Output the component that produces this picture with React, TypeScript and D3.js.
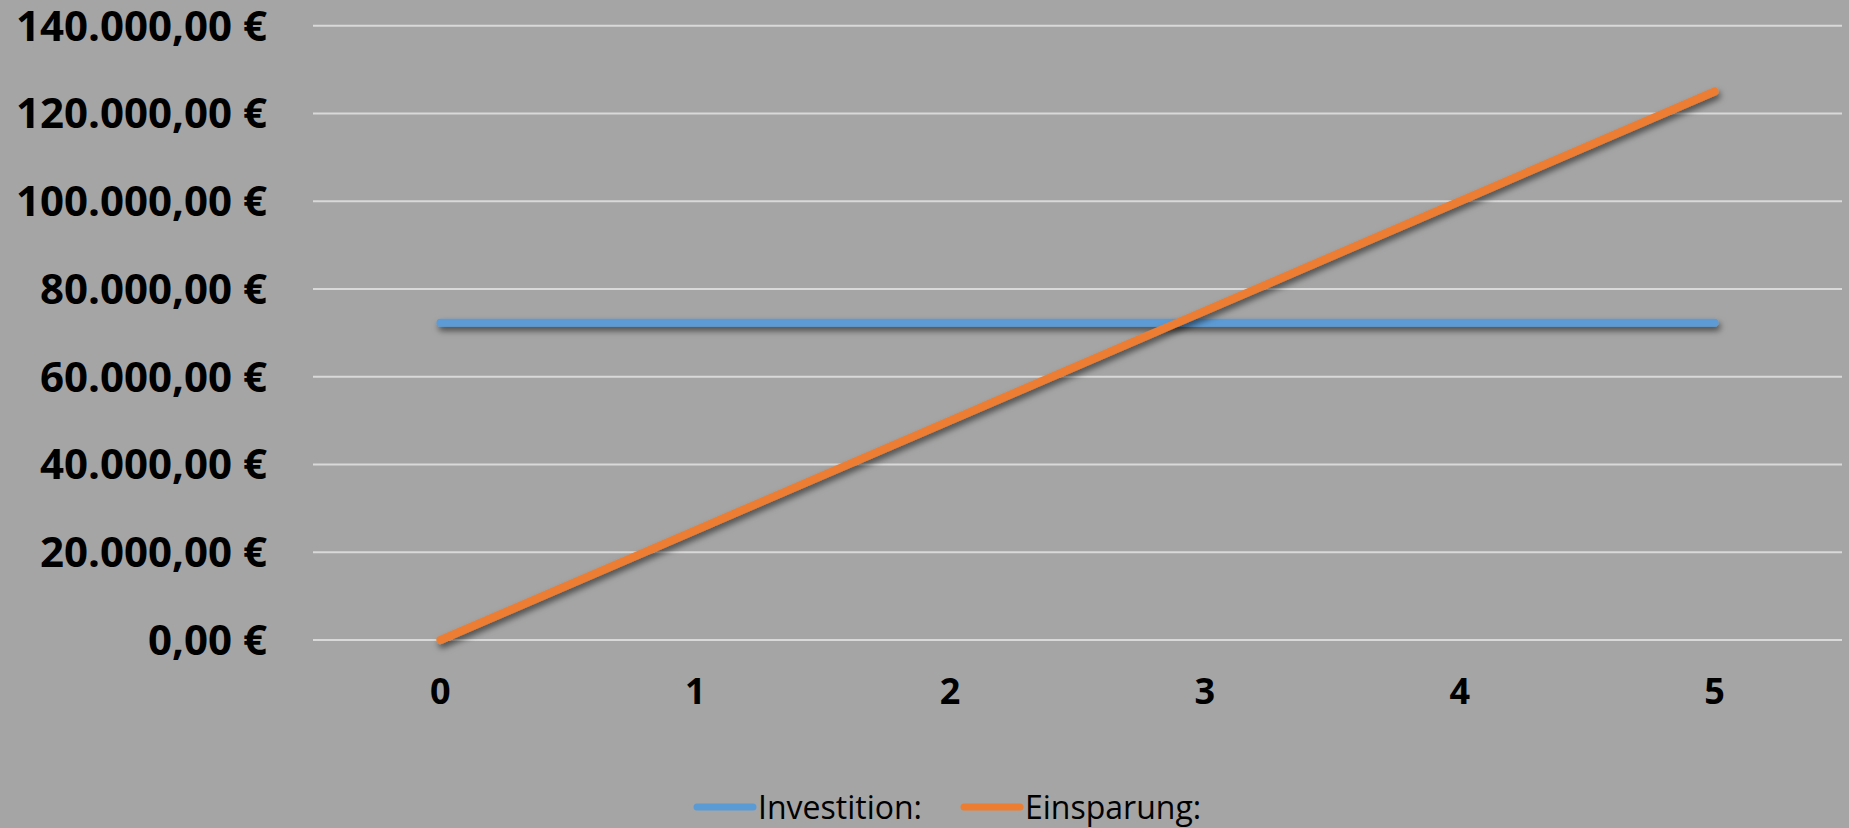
import React from "react";
import * as d3 from "d3";

const categories = ["0", "1", "2", "3", "4", "5"];
const investition = [72300, 72300, 72300, 72300, 72300, 72300];
const einsparung = [0, 25000, 50000, 75000, 100000, 125000];
const yTicks = [0, 20000, 40000, 60000, 80000, 100000, 120000, 140000];
const seriesNames = ["Investition:", "Einsparung:"];
const seriesColors = ["#5B9BD5", "#ED7D31"];

const W = 1849;
const H = 828;
const plot = { left: 313, right: 1842, top: 25.7, bottom: 640 };

const fmt = (v: number) => {
  const s = v.toFixed(2).replace(".", ",");
  const [int, dec] = s.split(",");
  const withDots = int.replace(/\B(?=(\d{3})+(?!\d))/g, ".");
  return `${withDots},${dec} €`;
};

export default function App() {
  const x = d3
    .scaleBand<string>()
    .domain(categories)
    .range([plot.left, plot.right])
    .paddingInner(0)
    .paddingOuter(0);
  const y = d3.scaleLinear().domain([0, 140000]).range([plot.bottom, plot.top]);
  const cx = (c: string) => (x(c) as number) + x.bandwidth() / 2;

  const line = d3
    .line<number>()
    .x((_, i) => cx(categories[i]))
    .y((d) => y(d));

  const series = [investition, einsparung];

  const legendItems = [
    { lineX: 697, textX: 758 },
    { lineX: 964, textX: 1025 },
  ];

  return (
    <svg
      width={W}
      height={H}
      style={{ position: "absolute", left: 0, top: 0, display: "block" }}
      fontFamily="'Open Sans', sans-serif"
    >
      <defs>
        <filter id="shadow" filterUnits="userSpaceOnUse" x={0} y={0} width={W} height={H}>
          <feDropShadow dx="2" dy="4" stdDeviation="3" floodColor="#000" floodOpacity="0.55" />
        </filter>
      </defs>
      <rect x={0} y={0} width={W} height={H} fill="#A5A5A5" />
      {yTicks.map((t) => (
        <g key={t}>
          <line x1={plot.left} x2={plot.right} y1={y(t)} y2={y(t)} stroke="#D9D9D9" strokeWidth={2} />
          <text
            x={267}
            y={y(t) + 15}
            textAnchor="end"
            fontSize={42}
            fontWeight={700}
            fill="#000"
          >
            {fmt(t)}
          </text>
        </g>
      ))}
      {categories.map((c) => (
        <text key={c} x={cx(c)} y={704} textAnchor="middle" fontSize={36} fontWeight={700} fill="#000">
          {c}
        </text>
      ))}
      {series.map((s, i) => (
        <path
          key={i}
          d={line(s) || ""}
          fill="none"
          stroke={seriesColors[i]}
          strokeWidth={8}
          strokeLinecap="round"
          strokeLinejoin="round"
          filter="url(#shadow)"
        />
      ))}
      {legendItems.map((l, i) => (
        <g key={i}>
          <line
            x1={l.lineX}
            x2={l.lineX + 56}
            y1={807}
            y2={807}
            stroke={seriesColors[i]}
            strokeWidth={7}
            strokeLinecap="round"
          />
          <text x={l.textX} y={819} fontSize={32} fill="#000">
            {seriesNames[i]}
          </text>
        </g>
      ))}
    </svg>
  );
}
